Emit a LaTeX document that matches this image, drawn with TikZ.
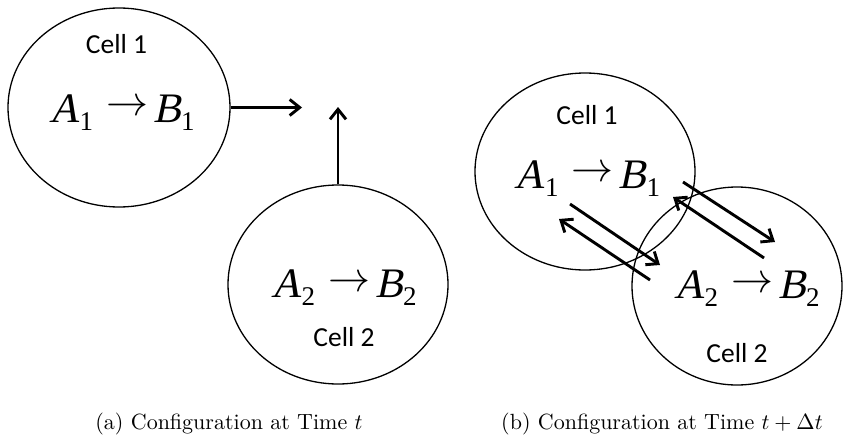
\documentclass[tikz,border=0pt]{standalone}
\usepackage{fontspec}
\usepackage{graphicx}
\usetikzlibrary{arrows.meta,shapes.geometric}
\newfontfamily\tmsfont{Liberation Serif}
\newfontfamily\tmsslant{Liberation Serif}[FakeSlant=0.21]
\newfontfamily\cellfont{Carlito}
\newcommand\rxn[1]{\mbox{%
{\fontsize{42}{42}\selectfont\tmsslant A}%
\raisebox{-8pt}{\fontsize{27}{27}\selectfont\tmsfont #1}%
\hspace{13pt}\raisebox{6pt}{\scalebox{4.2}{$\rightarrow$}}\hspace{5pt}%
{\fontsize{42}{42}\selectfont\tmsslant B}%
\raisebox{-8pt}{\fontsize{27}{27}\selectfont\tmsfont #1}}}
\begin{document}
\begin{tikzpicture}[x=1pt,y=-1pt,
  cell/.style={draw, ellipse, line width=1.3pt, inner sep=0pt},
  celltxt/.style={font=\fontsize{27.5}{30}\selectfont\cellfont, inner sep=0pt, anchor=base},
  rtxt/.style={inner sep=0pt, anchor=base},
  arr/.style={line width=2.9pt, -{Straight Barb[length=10pt,width=16pt]}},
  captxt/.style={inner sep=0pt, anchor=base}]
\useasboundingbox (0,0) rectangle (843,436);
% (a)
\node[cell, minimum width=222pt, minimum height=199pt] (c1a) at (119,107.5) {};
\node[cell, minimum width=220pt, minimum height=199pt] (c2a) at (338,284.5) {};
\node[celltxt] (l1a) at (116.5,54) {Cell 1};
\node[rtxt] (r1a) at (122,122) {\rxn{1}};
\node[rtxt] (r2a) at (344,297) {\rxn{2}};
\node[celltxt] (l2a) at (344,346) {Cell 2};
\coordinate (t1) at (302,107.5);
\coordinate (t2) at (338,107);
\draw[arr] (c1a.east) -- (t1);
\draw[arr] (c2a.north) -- (t2);
% (b)
\node[cell, minimum width=220pt, minimum height=197pt] (c1b) at (585,171.5) {};
\node[cell, minimum width=210pt, minimum height=198pt] (c2b) at (737,286) {};
\node[celltxt] (l1b) at (587,124) {Cell 1};
\node[rtxt] (r1b) at (587.5,188) {\rxn{1}};
\node[rtxt] (r2b) at (747,298) {\rxn{2}};
\node[celltxt] (l2b) at (737,362) {Cell 2};
\coordinate (a1s) at (570,204); \coordinate (a1e) at (660,265);
\coordinate (a2s) at (650,280); \coordinate (a2e) at (559,219);
\coordinate (a3s) at (683,182); \coordinate (a3e) at (775,242);
\coordinate (a4s) at (764,258); \coordinate (a4e) at (673,197);
\draw[arr] (a1s) -- (a1e);
\draw[arr] (a2s) -- (a2e);
\draw[arr] (a3s) -- (a3e);
\draw[arr] (a4s) -- (a4e);
% captions
\node[captxt] (capa) at (229,429) {\scalebox{2.2}{(a) Configuration at Time $t$}};
\node[captxt] (capb) at (662,429) {\scalebox{2.2}{(b) Configuration at Time $t+\Delta t$}};
\end{tikzpicture}
\end{document}
